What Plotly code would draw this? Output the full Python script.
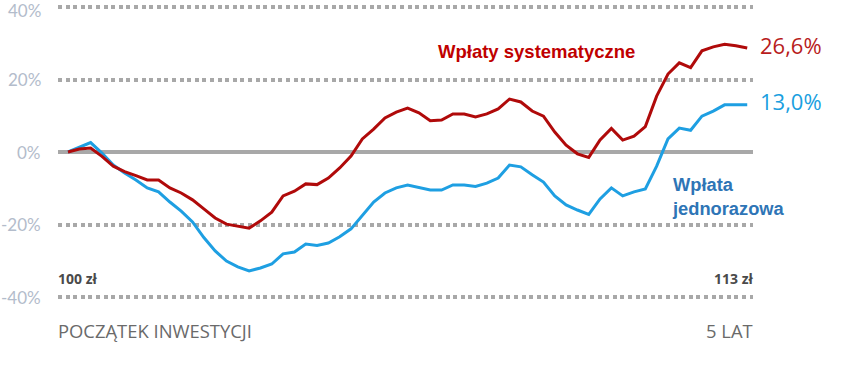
import plotly.graph_objects as go

months = list(range(61))

systematic = [0, 0.8, 1.1, -1.2, -3.9, -5.4, -6.5, -7.7, -7.7, -9.9,
              -11.3, -13.2, -15.7, -18.2, -19.9, -20.4, -21.0, -19.0, -16.6, -12.1,
              -10.8, -8.8, -9.0, -7.2, -4.4, -1.1, 3.6, 6.3, 9.4, 11.0,
              12.1, 10.8, 8.6, 8.8, 10.5, 10.5, 9.7, 10.5, 11.9, 14.6,
              13.8, 11.3, 9.9, 5.5, 1.9, -0.5, -1.5, 3.3, 6.5, 3.3,
              4.4, 7.0, 15.4, 21.5, 24.6, 23.3, 27.9, 29.0, 29.7, 29.3,
              28.7]

lump_sum = [0, 1.4, 2.6, -0.3, -3.6, -5.8, -7.7, -9.9, -11.0, -13.8,
            -16.3, -19.3, -23.6, -27.3, -30.1, -31.7, -32.8, -32.0, -30.9, -28.1,
            -27.6, -25.4, -25.8, -25.1, -23.4, -21.2, -17.4, -13.8, -11.3, -9.9,
            -9.1, -9.7, -10.5, -10.5, -9.1, -9.1, -9.5, -8.6, -7.2, -3.6,
            -4.1, -6.3, -8.3, -12.1, -14.6, -16.0, -17.2, -12.96, -9.9, -12.1,
            -11.0, -10.2, -3.9, 3.6, 6.6, 6.0, 9.9, 11.3, 13.0, 13.0,
            13.0]

tick_vals = [-40, -20, 0, 20, 40]
tick_text = ["-40%", "-20%", "0%", "20%", "40%"]

RED = "#b00a0a"
BLUE = "#1e9fe2"

fig = go.Figure()
fig.add_trace(go.Scatter(x=months, y=lump_sum, mode="lines",
                         line=dict(color=BLUE, width=3), hoverinfo="skip"))
fig.add_trace(go.Scatter(x=months, y=systematic, mode="lines",
                         line=dict(color=RED, width=3), hoverinfo="skip"))

W, H = 862, 367
L, R, T, B = 58, 109, 0, 0
pw = W - L - R


def px(x):
    return (x - L) / pw


def py(y):
    return 1 - (y - T) / (H - T - B)


ann = []
# axis labels as annotations placed on the y scale
for v, t in zip(tick_vals, tick_text):
    ann.append(dict(text=t, x=px(43), xref="paper", y=v, yref="y",
                    xanchor="right", yanchor="middle",
                    yshift=-3 if v == max(tick_vals) else 0,
                    font=dict(family="Lato", size=17, color="#b3bccb"),
                    showarrow=False))

labels = []
labels.append(dict(text="<b>Wpłaty systematyczne</b>", x=px(436), y=py(52),
                   xanchor="left", yanchor="middle",
                   font=dict(family="Liberation Sans, Arial", size=18.5, color="#c00000")))
labels.append(dict(text="<b>Wpłata<br>jednorazowa</b>", x=px(670), y=py(196),
                   xanchor="left", yanchor="middle", align="left",
                   font=dict(family="Liberation Sans, Arial", size=18.3, color="#2e75b6")))
labels.append(dict(text="26,6%", x=px(758), y=py(45), xanchor="left", yanchor="middle",
                   font=dict(family="Open Sans", size=22, color="#b81c1c")))
labels.append(dict(text="13,0%", x=px(758), y=py(101), xanchor="left", yanchor="middle",
                   font=dict(family="Open Sans", size=22, color="#1a9fe0")))
labels.append(dict(text="<b>100 zł</b>", x=px(56), y=py(278), xanchor="left", yanchor="middle",
                   font=dict(family="Open Sans", size=14, color="#4a4a4a")))
labels.append(dict(text="<b>113 zł</b>", x=px(755), y=py(278), xanchor="right", yanchor="middle",
                   font=dict(family="Open Sans", size=14, color="#4a4a4a")))
labels.append(dict(text="POCZĄTEK INWESTYCJI", x=px(56), y=py(330), xanchor="left", yanchor="middle",
                   font=dict(family="Open Sans", size=18.4, color="#6a6a6a")))
labels.append(dict(text="5 LAT", x=px(755), y=py(330), xanchor="right", yanchor="middle",
                   font=dict(family="Open Sans", size=18.4, color="#6a6a6a")))
for a in labels:
    a.update(xref="paper", yref="paper", showarrow=False)
ann += labels

fig.update_layout(
    width=W, height=H,
    margin=dict(l=L, r=R, t=T, b=B, autoexpand=False),
    paper_bgcolor="white", plot_bgcolor="white",
    showlegend=False,
    annotations=ann,
    xaxis=dict(range=[-0.883, 60.51], showgrid=False, zeroline=False,
               showticklabels=False, showline=False, fixedrange=True,
               automargin=False),
    yaxis=dict(range=[-59.31, 41.93], tickvals=tick_vals,
               showticklabels=False,
               showgrid=True, gridcolor="#a8a8a8", gridwidth=3.5,
               griddash="4px,3.6px",
               zeroline=True, zerolinecolor="#a8a8a8", zerolinewidth=4,
               showline=False, ticks="",
               fixedrange=True, automargin=False),
)

fig.write_html("out.html", config={"displayModeBar": False},
               post_script="document.body.style.margin='0';")
